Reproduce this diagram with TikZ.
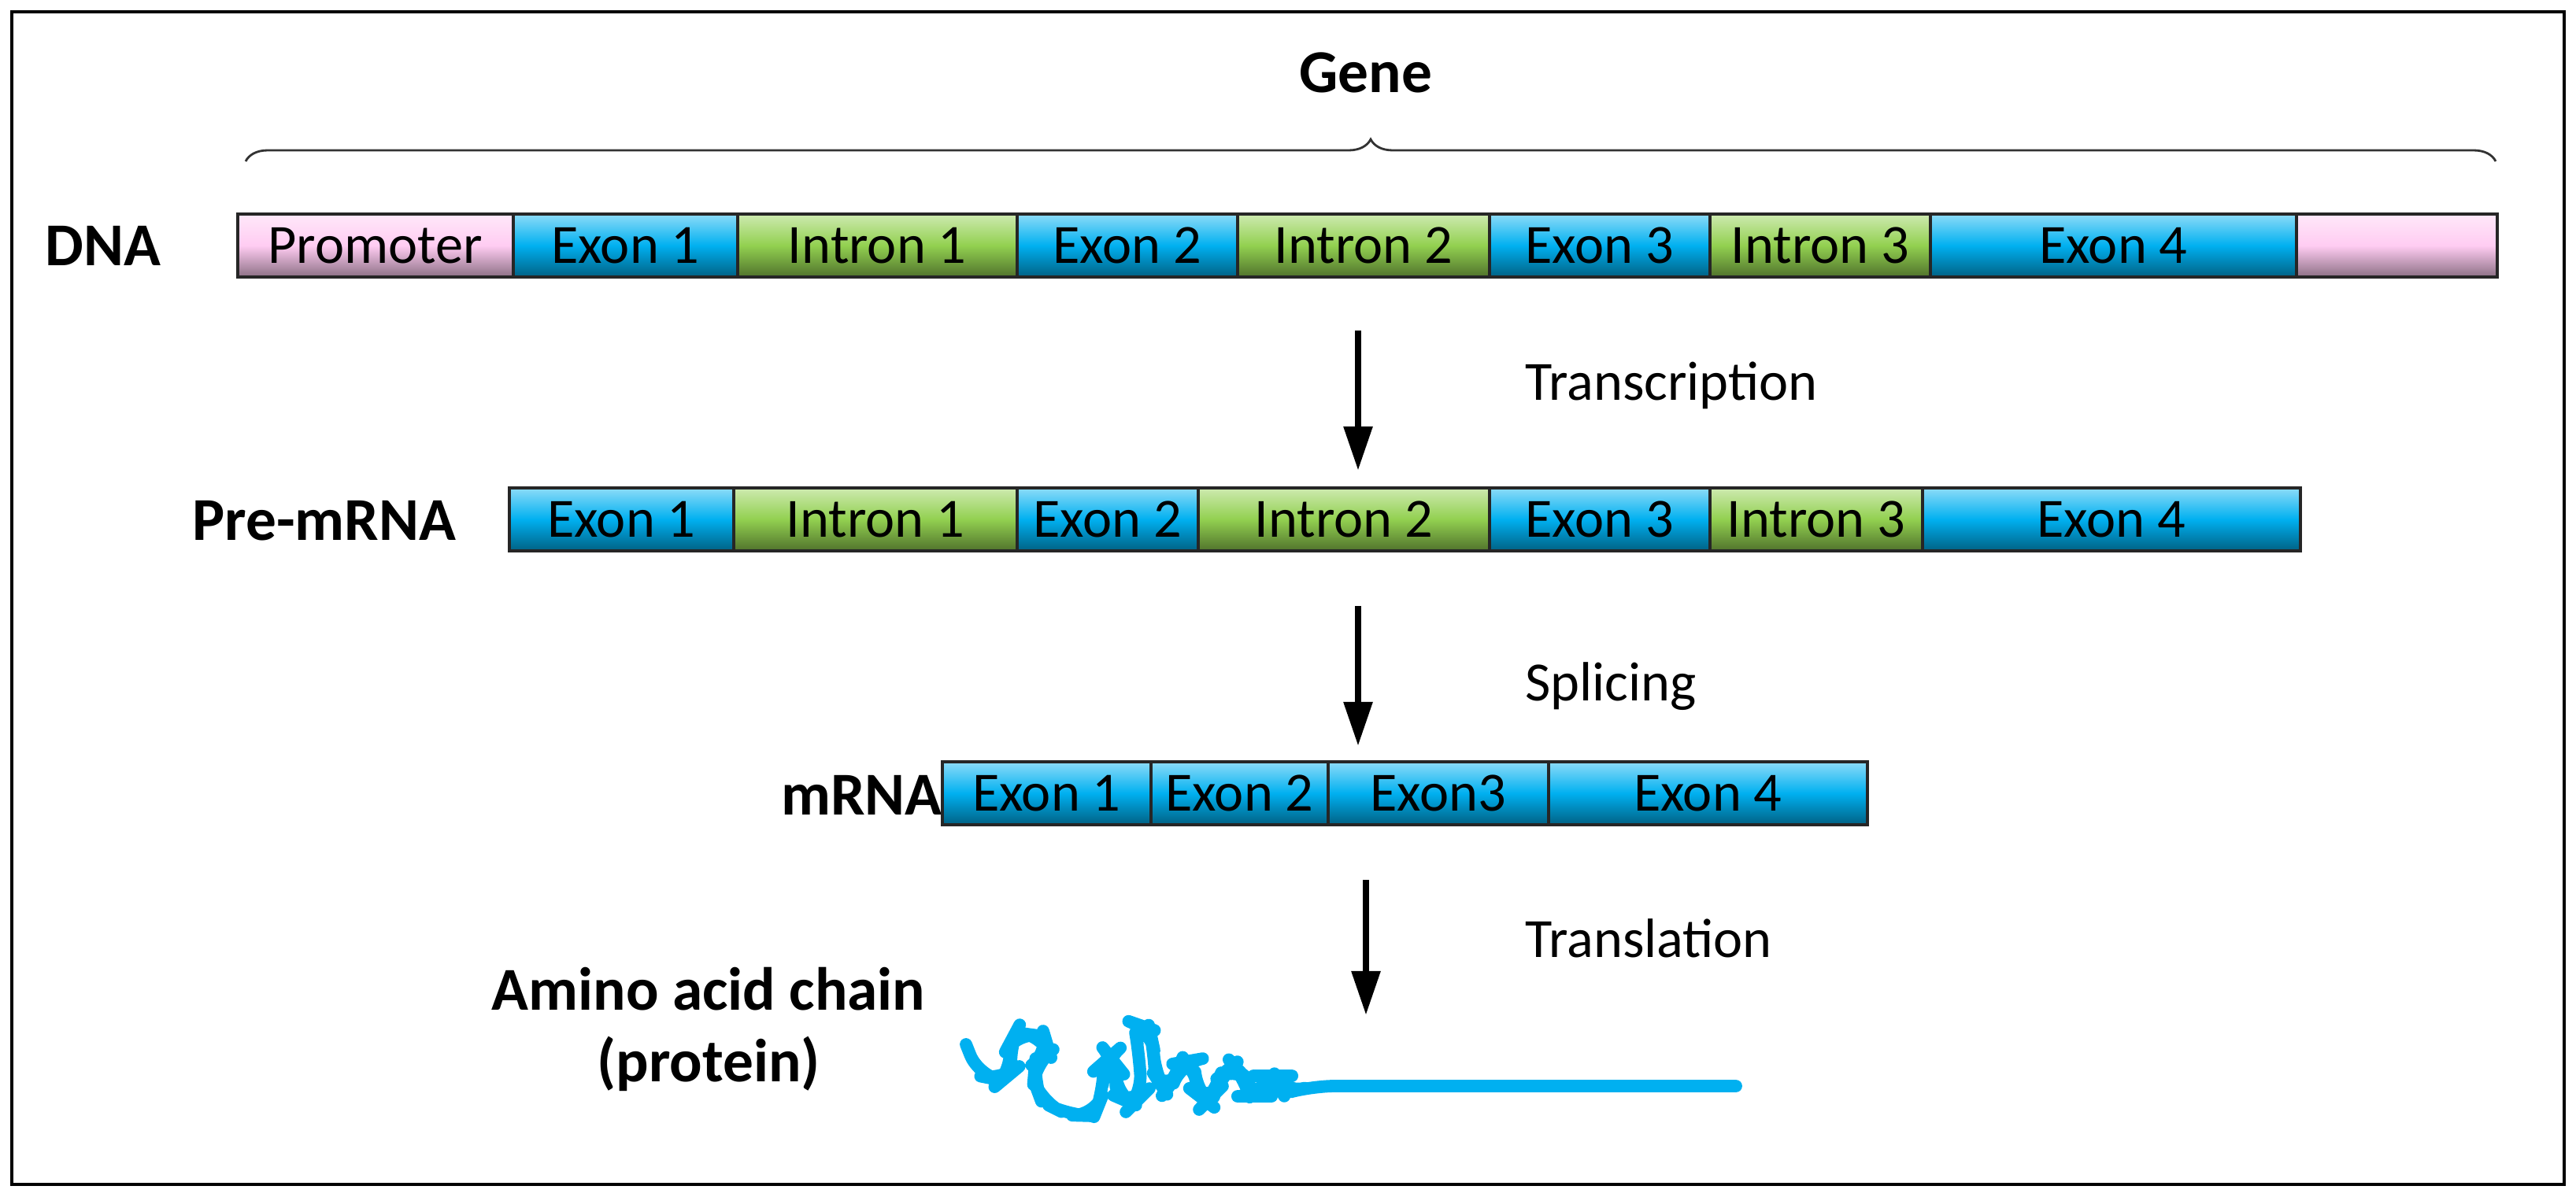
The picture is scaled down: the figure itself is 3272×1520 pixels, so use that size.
\documentclass[tikz,border=0pt]{standalone}
\usepackage{fontspec}
\setmainfont{Carlito}
\usetikzlibrary{arrows.meta,decorations.pathreplacing}
\definecolor{exon}{HTML}{00B0F0}
\definecolor{intron}{HTML}{92D050}
\definecolor{prom}{HTML}{FFCCF2}
\tikzset{
  seg/.style={draw=black!85, line width=1pt, top color=#1!45!white, bottom color=#1!55!black, middle color=#1, inner sep=0pt, font=\fontsize{20}{24}\selectfont, anchor=west},
  lab/.style={font=\bfseries\fontsize{22}{26}\selectfont, align=center},
  steplab/.style={font=\fontsize{20}{24}\selectfont, anchor=west},
  flow/.style={line width=2.5pt, -{Triangle[length=16pt,width=10pt]}},
}
\newcommand{\seg}[6]{\node[seg=#5, minimum width={(#3-#2)*0.01cm}, minimum height=0.8cm] (#1) at (#2,#4) {#6};}
\begin{document}
\begin{tikzpicture}[x=0.01cm,y=-0.01cm]
\useasboundingbox (0,0) rectangle (3272,1520);
\draw[line width=1pt] (15,15) rectangle (3257,1505);
\node[lab] (gene) at (1735,92) {Gene};
\coordinate (bl) at (312,205); \coordinate (br) at (3170,205);
\draw[decoration={brace,amplitude=0.28cm}, decorate, line width=0.8pt, black!80] (bl) -- (br);
% DNA
\node[lab, anchor=west] (dna) at (45,312) {DNA};
\seg{p0}{300}{650}{312}{prom}{Promoter}
\seg{d1}{650}{935}{312}{exon}{Exon 1}
\seg{d2}{935}{1290}{312}{intron}{Intron 1}
\seg{d3}{1290}{1570}{312}{exon}{Exon 2}
\seg{d4}{1570}{1890}{312}{intron}{Intron 2}
\seg{d5}{1890}{2170}{312}{exon}{Exon 3}
\seg{d6}{2170}{2450}{312}{intron}{Intron 3}
\seg{d7}{2450}{2915}{312}{exon}{Exon 4}
\seg{d8}{2915}{3170}{312}{prom}{}
% arrow 1
\coordinate (a1s) at (1725,420); \coordinate (a1e) at (1725,598);
\draw[flow] (a1s) -- (a1e);
\node[steplab] (t1) at (1925,490) {Transcription};
% pre-mRNA
\node[lab, anchor=west] (pre) at (232,662) {Pre-mRNA};
\seg{q1}{645}{930}{660}{exon}{Exon 1}
\seg{q2}{930}{1290}{660}{intron}{Intron 1}
\seg{q3}{1290}{1520}{660}{exon}{Exon 2}
\seg{q4}{1520}{1890}{660}{intron}{Intron 2}
\seg{q5}{1890}{2170}{660}{exon}{Exon 3}
\seg{q6}{2170}{2440}{660}{intron}{Intron 3}
\seg{q7}{2440}{2920}{660}{exon}{Exon 4}
% arrow 2
\coordinate (a2s) at (1725,770); \coordinate (a2e) at (1725,948);
\draw[flow] (a2s) -- (a2e);
\node[steplab] (t2) at (1925,872) {Splicing};
% mRNA
\node[lab, anchor=west] (mrna) at (980,1010) {mRNA};
\seg{m1}{1195}{1460}{1008}{exon}{Exon 1}
\seg{m2}{1460}{1685}{1008}{exon}{Exon 2}
\seg{m3}{1685}{1965}{1008}{exon}{Exon3}
\seg{m4}{1965}{2370}{1008}{exon}{Exon 4}
% arrow 3
\coordinate (a3s) at (1735,1118); \coordinate (a3e) at (1735,1290);
\draw[flow] (a3s) -- (a3e);
\node[steplab] (t3) at (1925,1192) {Translation};
% protein
\node[lab] (aa) at (900,1308) {Amino acid chain\\(protein)};
\draw[exon, line width=4.5pt, line cap=round, line join=round, rounded corners=8pt]
 (1227,1327) -- (1243,1367) -- (1273,1373) -- (1285,1363) -- (1282,1327) -- (1290,1312) -- (1327,1317) -- (1333,1337) -- (1315,1350) -- (1313,1373) -- (1323,1400) -- (1357,1417) -- (1390,1418) -- (1400,1393) -- (1402,1350) -- (1410,1343) -- (1418,1353) -- (1417,1393) -- (1440,1403) -- (1450,1393) -- (1447,1340) -- (1440,1300) -- (1460,1307) -- (1465,1330) -- (1467,1367) -- (1480,1387) -- (1493,1370) -- (1500,1350) -- (1517,1347) -- (1520,1390) -- (1533,1400) -- (1543,1390) -- (1550,1367) -- (1567,1353) -- (1580,1367) -- (1587,1393) -- (1600,1393) -- (1613,1367) -- (1620,1367) -- (1630,1390) -- (1667,1380) -- (1720,1380) -- (2205,1380);
\end{tikzpicture}
\end{document}
